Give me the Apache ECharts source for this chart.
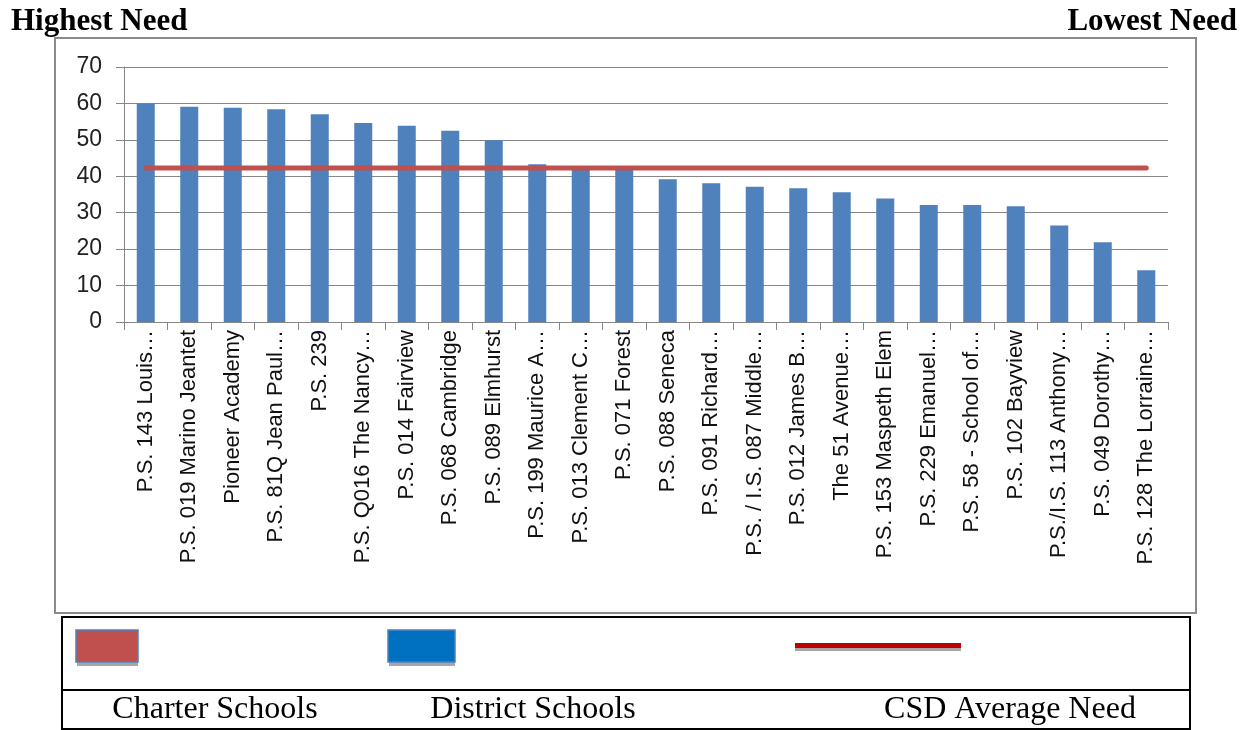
<!DOCTYPE html>
<html>
<head>
<meta charset="utf-8">
<script src="https://cdn.jsdelivr.net/npm/echarts@6/dist/echarts.min.js"></script>
<style>
html,body{margin:0;padding:0;background:#fff;}
#chart{width:1253px;height:730px;}
</style>
</head>
<body>
<div id="chart"></div>
<script>
const categories = [
  "P.S. 143 Louis…", "P.S. 019 Marino Jeantet", "Pioneer Academy", "P.S. 81Q Jean Paul…",
  "P.S. 239", "P.S. Q016 The Nancy…", "P.S. 014 Fairview", "P.S. 068 Cambridge",
  "P.S. 089 Elmhurst", "P.S. 199 Maurice A…", "P.S. 013 Clement C…", "P.S. 071 Forest",
  "P.S. 088 Seneca", "P.S. 091 Richard…", "P.S. / I.S. 087 Middle…", "P.S. 012 James B…",
  "The 51 Avenue…", "P.S. 153 Maspeth Elem", "P.S. 229 Emanuel…", "P.S. 58 - School of…",
  "P.S. 102 Bayview", "P.S./I.S. 113 Anthony…", "P.S. 049 Dorothy…", "P.S. 128 The Lorraine…"
];
const districtValues = [60.0, 59.1, 58.8, 58.4, 57.0, 54.6, 53.9, 52.5, 49.9, 43.3, 41.8, 41.7,
  39.2, 38.1, 37.1, 36.7, 35.6, 33.9, 32.1, 32.1, 31.8, 26.5, 21.9, 14.2];
const csdAverage = 42.3;
const averageValues = categories.map(() => csdAverage);
const yTicks = [0, 10, 20, 30, 40, 50, 60, 70];
const legendLabels = ["Charter Schools", "District Schools", "CSD Average Need"];
const headerLabels = ["Highest Need", "Lowest Need"];

const chart = echarts.init(document.getElementById('chart'));
const serif = '"Liberation Serif", "Times New Roman", serif';
const sans = '"Liberation Sans", Arial, sans-serif';

chart.setOption({
  backgroundColor: '#ffffff',
  animation: false,
  title: [
    { text: headerLabels[0], left: 6, top: 1, textStyle: { fontFamily: serif, fontSize: 31, fontWeight: 'bold', color: '#000' } },
    { text: headerLabels[1], right: 11, top: 1, textStyle: { fontFamily: serif, fontSize: 31, fontWeight: 'bold', color: '#000' } }
  ],
  grid: { left: 124, right: 85, top: 67, bottom: 408, containLabel: false },
  xAxis: {
    type: 'category',
    data: categories,
    boundaryGap: true,
    axisLine: { show: true, lineStyle: { color: '#868686', width: 1 } },
    axisTick: { show: true, length: 8, alignWithLabel: false, lineStyle: { color: '#868686' } },
    axisLabel: { rotate: 90, interval: 0, margin: 8, fontFamily: sans, fontSize: 22, color: '#111' },
    splitLine: { show: false }
  },
  yAxis: {
    type: 'value',
    min: 0, max: 70, interval: 10,
    axisLine: { show: true, lineStyle: { color: '#868686', width: 1 } },
    axisTick: { show: true, length: 8, lineStyle: { color: '#868686' } },
    axisLabel: { margin: 22, fontFamily: sans, fontSize: 23, color: '#222',
      formatter: v => yTicks.includes(v) ? String(v) : '' },
    splitLine: { show: true, lineStyle: { color: '#868686', width: 1 } }
  },
  series: [
    {
      name: legendLabels[1],
      type: 'bar',
      data: districtValues,
      barWidth: 18,
      itemStyle: { color: '#4F81BD' },
      z: 2
    },
    {
      name: legendLabels[2],
      type: 'line',
      data: averageValues,
      symbol: 'none',
      lineStyle: { color: '#C0504D', width: 5, cap: 'round' },
      z: 3
    }
  ],
  graphic: [
    { type: 'rect', shape: { x: 55, y: 38, width: 1141, height: 575 }, style: { fill: null, stroke: '#8a8a8a', lineWidth: 2 }, silent: true },
    { type: 'rect', shape: { x: 62, y: 617, width: 1128, height: 112 }, style: { fill: null, stroke: '#000', lineWidth: 2 }, silent: true },
    { type: 'line', shape: { x1: 62, y1: 690, x2: 1190, y2: 690 }, style: { stroke: '#000', lineWidth: 2 }, silent: true },
    // legend icons
    { type: 'rect', shape: { x: 77, y: 634, width: 61, height: 32 }, style: { fill: '#A6A6A6' }, silent: true },
    { type: 'rect', shape: { x: 76, y: 630, width: 62, height: 32 }, style: { fill: '#C0504D', stroke: '#4F81BD', lineWidth: 1.5 }, silent: true },
    { type: 'rect', shape: { x: 389, y: 634, width: 66, height: 32 }, style: { fill: '#A6A6A6' }, silent: true },
    { type: 'rect', shape: { x: 388, y: 630, width: 67, height: 32 }, style: { fill: '#0070C0', stroke: '#4F81BD', lineWidth: 1.5 }, silent: true },
    { type: 'rect', shape: { x: 795, y: 647, width: 166, height: 4 }, style: { fill: '#A6A6A6' }, silent: true },
    { type: 'rect', shape: { x: 795, y: 643, width: 166, height: 5 }, style: { fill: '#C00000' }, silent: true },
    // legend labels
    { type: 'text', x: 215, y: 710, style: { text: legendLabels[0], fontFamily: serif, fontSize: 32, fill: '#000', textAlign: 'center', textVerticalAlign: 'middle' }, silent: true },
    { type: 'text', x: 533, y: 710, style: { text: legendLabels[1], fontFamily: serif, fontSize: 32, fill: '#000', textAlign: 'center', textVerticalAlign: 'middle' }, silent: true },
    { type: 'text', x: 1010, y: 710, style: { text: legendLabels[2], fontFamily: serif, fontSize: 32, fill: '#000', textAlign: 'center', textVerticalAlign: 'middle' }, silent: true }
  ]
});
</script>
</body>
</html>
